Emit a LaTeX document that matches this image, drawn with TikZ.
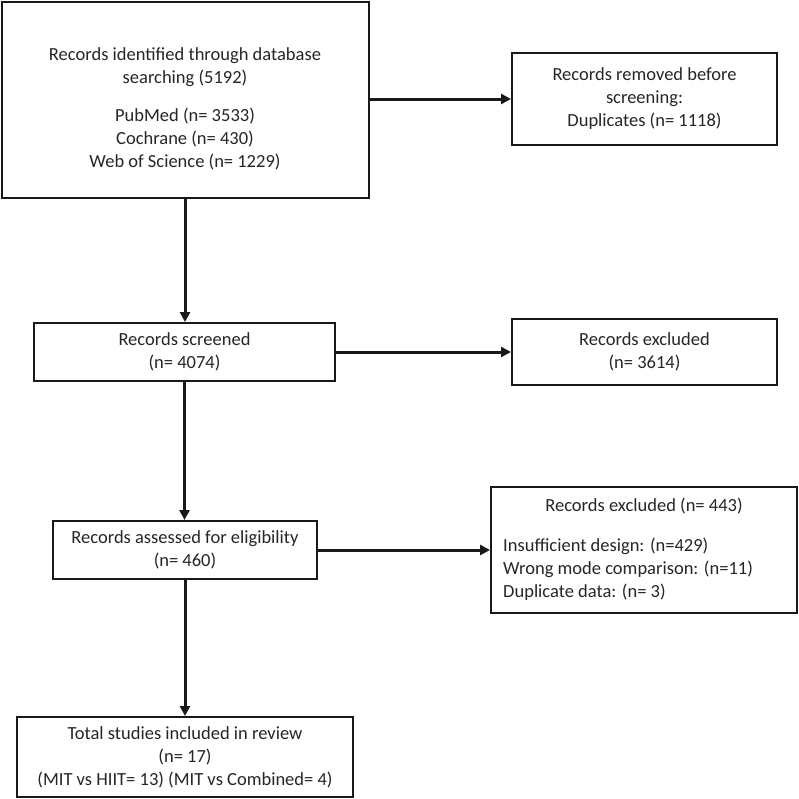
\documentclass[tikz,border=0pt]{standalone}
\usepackage{fontspec}
\setmainfont{Carlito}
\usetikzlibrary{arrows.meta}
\begin{document}
\begin{tikzpicture}[x=1pt,y=-1pt,
  box/.style={draw=black!90, line width=2pt, rectangle, inner sep=0pt, align=center,
    font=\fontsize{18.5}{23}\selectfont, text=black!85},
  txt/.style={inner sep=0pt, font=\fontsize{18.5}{23}\selectfont, text=black!85},
  flow/.style={line width=3pt, draw=black!90, -{Triangle[length=10pt,width=10pt]}}]
\useasboundingbox (0,0) rectangle (799,798);
\fill[white] (0,0) rectangle (799,798);
% boxes
\node[box, minimum width=367pt, minimum height=196pt] (b1) at (185,99.5) {};
\node[txt, align=center] (b1t) at (185,108.5) {Records identified through database\\searching (5192)\\[15pt]PubMed (n= 3533)\\Cochrane (n= 430)\\Web of Science (n= 1229)};
\node[box, minimum width=265pt, minimum height=92pt] (b2) at (644.5,99) {Records removed before\\screening:\\Duplicates (n= 1118)};
\node[box, minimum width=301pt, minimum height=58pt] (b3) at (184.5,352) {Records screened\\(n= 4074)};
\node[box, minimum width=265pt, minimum height=66pt] (b4) at (644.5,352) {Records excluded\\(n= 3614)};
\node[box, minimum width=264pt, minimum height=58pt] (b5) at (185,550) {Records assessed for eligibility\\(n= 460)};
\node[box, minimum width=306pt, minimum height=126pt] (b6) at (644,550) {};
\node[txt, anchor=base] (b6t) at (644,511) {Records excluded (n= 443)};
\node[txt, align=left, anchor=north west] (b6l) at (503,538) {Insufficient design: (n=429)\\Wrong mode comparison: (n=11)\\Duplicate data: (n= 3)};
\node[box, minimum width=336pt, minimum height=80pt] (b7) at (185,757) {Total studies included in review\\(n= 17)\\(MIT vs HIIT= 13) (MIT vs Combined= 4)};
% connectors
\draw[flow] (b1.east |- b2.west) -- (b2.west);
\draw[flow] (b1.south) -- (b1.south |- b3.north);
\draw[flow] (b3.east) -- (b3.east -| b4.west);
\draw[flow] (b3.south) -- (b3.south |- b5.north);
\draw[flow] (b5.east) -- (b5.east -| b6.west);
\draw[flow] (b5.south) -- (b5.south |- b7.north);
\end{tikzpicture}
\end{document}
